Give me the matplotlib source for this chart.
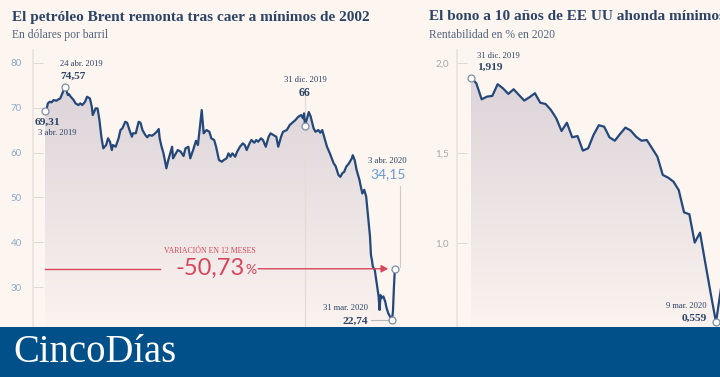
import numpy as np
import matplotlib
matplotlib.use('Agg')
import matplotlib.pyplot as plt
from matplotlib.colors import LinearSegmentedColormap
from matplotlib.patches import FancyArrowPatch, Rectangle

# ---------------- data ----------------
# Brent: days since 3 Apr 2019, price in $/barrel
brent_day = [0,2,3,5,7,9,12,14,16,21,22,24,25,27,30,32,35,37,39,42,44,47,49,50,53,55,57,59,61,64,
             66,68,70,71,74,77,79,81,84,86,89,91,92,95,98,100,102,105,107,109,112,114,117,119,120,122,
             124,126,127,129,131,133,134,137,139,142,145,147,150,152,155,158,160,164,166,169,172,174,
             177,179,182,185,187,190,192,194,196,199,201,204,207,209,211,214,216,219,221,223,226,228,
             231,234,236,239,242,244,247,249,253,256,258,262,265,268,270,271,272,276,278,281,283,286,
             288,290,292,295,298,302,304,307,309,311,313,315,318,321,322,324,326,329,330,332,334,336,
             338,340,341,342,343,345,347,349,350,351,352,354,356,357,359,363,364,365,366]
brent_val = [69.31,69.82,70.93,71.29,71.16,71.67,71.51,71.82,72.04,74.57,74.04,72.78,73.0,72.4,71.67,
             70.93,70.56,70.93,70.56,71.29,72.4,72.04,70.18,68.33,69.82,69.82,67.22,63.51,60.93,61.67,
             63.16,62.4,60.56,61.67,61.29,63.16,65.0,65.38,66.84,66.62,64.62,63.51,64.27,64.27,66.84,
             66.62,65.0,63.89,63.38,63.89,63.73,64.04,64.62,65.22,63.16,61.29,59.82,57.6,56.49,58.33,
             59.82,61.29,58.71,59.82,60.56,60.18,59.22,60.93,61.29,58.71,60.56,62.62,61.67,69.44,64.27,
             65.0,64.62,63.16,62.78,61.29,58.33,57.96,58.33,58.71,59.82,59.07,59.82,59.07,60.18,61.29,
             62.04,61.67,60.56,62.04,62.78,62.18,62.78,62.4,63.16,62.78,61.29,63.51,64.27,63.89,63.51,
             61.29,63.51,64.62,65.0,66.11,66.49,67.22,67.96,68.33,67.6,68.71,66.0,69.0,67.96,65.38,
             64.62,65.0,64.4,65.0,63.51,61.29,59.82,57.6,57.0,55.0,54.6,55.4,55.7,56.8,57.6,58.7,59.4,
             58.3,56.1,53.9,52.8,50.9,51.7,50.2,45.7,41.3,37.2,36.1,34.6,33.9,30.9,28.0,25.0,28.3,27.6,
             28.0,26.8,25.7,24.3,22.74,24.7,29.9,34.15]
brent_yticks = [30, 40, 50, 60, 70, 80]

# US 10-year bond yield (%), trading sessions from 31 Dec 2019
bond_val = [1.919,1.887,1.798,1.813,1.817,1.882,1.859,1.828,1.854,1.822,1.791,1.81,1.832,1.779,1.772,
            1.739,1.693,1.622,1.668,1.587,1.594,1.513,1.526,1.600,1.654,1.646,1.587,1.568,1.606,1.641,
            1.624,1.59,1.568,1.572,1.526,1.479,1.378,1.363,1.341,1.294,1.170,1.159,1.002,1.057,0.887,
            0.72,0.559,0.76,0.82]
bond_yticks = [1.0, 1.5, 2.0]
bond_min_idx = 46

# ---------------- style ----------------
W, H = 720, 377
BG = '#fcf5f0'
NAVY = '#2d4466'
LINE = '#234879'
RED = '#d8455b'
LBLUE = '#6b9bd3'
SERIF = 'Liberation Serif'
SANS = 'Lato'
GTOP, GBOT = '#dcd4d9', '#faf3ef'

fig = plt.figure(figsize=(7.2, 3.77), dpi=100)
fig.patch.set_facecolor(BG)


def rect(x0, y0, x1, y1):
    return [x0 / W, 1 - y1 / H, (x1 - x0) / W, (y1 - y0) / H]


def grad_fill(ax, x, y, ybot):
    x = np.asarray(x, float)
    y = np.asarray(y, float)
    poly = ax.fill_between(x, y, ybot, facecolor='none', edgecolor='none')
    cmap = LinearSegmentedColormap.from_list('g', [GBOT, GTOP])
    grad = np.linspace(0, 1, 256).reshape(-1, 1)
    im = ax.imshow(grad, extent=[x.min(), x.max(), ybot, y.max()], origin='lower',
                   aspect='auto', cmap=cmap, zorder=1, interpolation='bilinear')
    im.set_clip_path(poly.get_paths()[0], transform=ax.transData)


def style_axis(ax, labelcolor, pad):
    for s in ['top', 'right', 'bottom']:
        ax.spines[s].set_visible(False)
    ax.spines['left'].set_color('#ebe2dc')
    ax.spines['left'].set_linewidth(1.2)
    ax.set_facecolor('none')
    ax.set_xticks([])
    ax.tick_params(axis='y', direction='in', length=7, width=0.6, color='#d9d2cf',
                   labelcolor=labelcolor, labelsize=7, pad=pad)
    for t in ax.get_yticklabels():
        t.set_fontfamily(SANS)


def marker(ax, x, y):
    ax.plot([x], [y], 'o', ms=5, mfc='white', mec='#7d8ea6', mew=0.9, zorder=6)


def note(ax, x, y, txt, dx, dy, size, color=NAVY, ha='left', weight='normal', family=SERIF):
    ax.annotate(txt, (x, y), xytext=(dx, dy), textcoords='offset pixels', ha=ha, va='center',
                fontsize=size, color=color, fontweight=weight, family=family, zorder=7,
                annotation_clip=False)

# ---------------- left panel: Brent ----------------
ax1 = fig.add_axes(rect(33, 50, 420, 327))
ylo1 = 21.2
grad_fill(ax1, brent_day, brent_val, ylo1)
ax1.plot(brent_day, brent_val, color=LINE, lw=1.6, zorder=4, solid_joinstyle='round')
ax1.set_xlim(-12.5, 392.3)
ax1.set_ylim(ylo1, 82.8)
ax1.set_yticks(brent_yticks)
ax1.set_yticklabels([str(v) for v in brent_yticks])
style_axis(ax1, '#8ea8cc', 8)

i_peak = int(np.argmax(brent_val))
i_low = int(np.argmin(brent_val))
i_dec = brent_day.index(272)
d0, v0 = brent_day[0], brent_val[0]
dp, vp = brent_day[i_peak], brent_val[i_peak]
dd, vd = brent_day[i_dec], brent_val[i_dec]
dl, vl = brent_day[i_low], brent_val[i_low]
de, ve = brent_day[-1], brent_val[-1]

# guide lines
ax1.plot([dd, dd], [ylo1, vd + 6.5], color='#e4dcd8', lw=0.9, zorder=2)
ax1.plot([de + 5, de + 5], [ve + 0.5, ve + 18.5], color='#cfc9c9', lw=0.8, zorder=3)
ax1.plot([dl - 22, dl - 1], [vl, vl], color='#b9b6ba', lw=0.8, zorder=3)

for (x, y) in [(d0, v0), (dp, vp), (dd, vd), (dl, vl), (de, ve)]:
    marker(ax1, x, y)

note(ax1, dp, vp, '24 abr. 2019', -5, 23, 6.2)
note(ax1, dp, vp, '74,57', -5, 10.5, 8.2, weight='bold')
note(ax1, d0, v0, '69,31', -10, -12, 8.2, weight='bold')
note(ax1, d0, v0, '3 abr. 2019', -7, -22, 6.2)
note(ax1, dd, vd, '31 dic. 2019', 0, 45.5, 6.2, ha='center')
note(ax1, dd, vd, '66', 0, 33, 8.6, ha='center', weight='bold')
note(ax1, de, ve, '3 abr. 2020', 12, 107.5, 6.2, ha='right')
note(ax1, de, ve, '34,15', 11, 95, 10, color=LBLUE, ha='right', family=SANS)
note(ax1, dl, vl, '31 mar. 2020', -23.5, 12, 6.2, ha='right')
note(ax1, dl, vl, '22,74', -23.5, -1, 8.2, ha='right', weight='bold')

# variation annotation
ax1.plot([d0, 120], [ve, ve], color=RED, lw=1.0, zorder=5)
arr = FancyArrowPatch((223, ve), (359, ve), arrowstyle='-|>,head_length=4,head_width=2.2',
                      color=RED, lw=1.0, zorder=5, shrinkA=0, shrinkB=0)
ax1.add_patch(arr)
ax1.text(172.5, ve + 4.0, 'VARIACIÓN EN 12 MESES', ha='center', va='center', fontsize=5.6,
         color=RED, family=SERIF, zorder=7)
ax1.text(209, ve, '-50,73', ha='right', va='center', fontsize=17, color=RED,
         family=SANS, fontweight='normal', zorder=7)
ax1.text(209.5, ve - 0.3, '%', ha='left', va='center', fontsize=10, color=RED,
         family=SANS, fontweight='normal', zorder=7)

# ---------------- right panel: bond ----------------
ax2 = fig.add_axes(rect(457, 50, 720, 327))
ylo2 = 0.533
bx = np.arange(len(bond_val))
grad_fill(ax2, bx, bond_val, ylo2)
ax2.plot(bx, bond_val, color=LINE, lw=1.6, zorder=4, solid_joinstyle='round')
ax2.set_xlim(-2.63, 46.75)
ax2.set_ylim(ylo2, 2.072)
ax2.set_yticks(bond_yticks)
ax2.set_yticklabels([f'{v:.1f}'.replace('.', ',') for v in bond_yticks])
style_axis(ax2, '#a9a7a8', 6)

marker(ax2, 0, bond_val[0])
marker(ax2, bond_min_idx, bond_val[bond_min_idx])
note(ax2, 0, bond_val[0], '31 dic. 2019', 6, 22, 6.2)
note(ax2, 0, bond_val[0], '1,919', 6, 10, 8.2, weight='bold')
note(ax2, bond_min_idx, bond_val[bond_min_idx], '9 mar. 2020', -9, 16, 6.2, ha='right')
note(ax2, bond_min_idx, bond_val[bond_min_idx], '0,559', -9, 4.5, 8.2, ha='right', weight='bold')

# ---------------- titles ----------------
fig.text(12 / W, 1 - 17 / H, 'El petróleo Brent remonta tras caer a mínimos de 2002', fontsize=10.95,
         fontweight='bold', color=NAVY, family=SERIF, va='center', ha='left')
fig.text(12 / W, 1 - 35 / H, 'En dólares por barril', fontsize=8.4, color='#54657e',
         family=SERIF, va='center', ha='left')
fig.text(429 / W, 1 - 17 / H, 'El bono a 10 años de EE UU ahonda mínimos históricos', fontsize=10.95,
         fontweight='bold', color=NAVY, family=SERIF, va='center', ha='left')
fig.text(429 / W, 1 - 35 / H, 'Rentabilidad en % en 2020', fontsize=8.4, color='#54657e',
         family=SERIF, va='center', ha='left')

# ---------------- banner ----------------
fig.patches.append(Rectangle((0, 0), 1, 50 / H, transform=fig.transFigure, facecolor='#02508a',
                             edgecolor='none', zorder=10))
fig.text(13 / W, 1 - 353 / H, 'CincoDías', fontsize=27.8, color='white', family=SERIF,
         va='center', ha='left', zorder=11)

fig.savefig('out.png', dpi=100, facecolor=BG)
